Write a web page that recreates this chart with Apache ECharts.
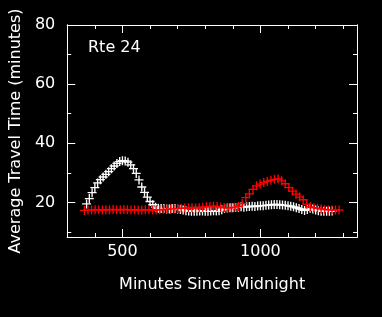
<!DOCTYPE html>
<html>
<head>
<meta charset="utf-8">
<script src="https://cdn.jsdelivr.net/npm/echarts@6/dist/echarts.min.js"></script>
<style>html,body{margin:0;padding:0;background:#000;}#c{width:382px;height:317px;}</style>
</head>
<body>
<div id="c"></div>
<script>
// ---- data ----
const whiteX = [370,380,390,400,410,420,430,440,450,460,470,480,490,500,510,520,530,540,550,560,570,580,590,600,610,620,630,640,650,660,670,680,690,700,710,720,730,740,750,760,770,780,790,800,810,820,830,840,850,860,870,880,890,900,910,920,930,940,950,960,970,980,990,1000,1010,1020,1030,1040,1050,1060,1070,1080,1090,1100,1110,1120,1130,1140,1150,1160,1170,1180,1190,1200,1210,1220,1230,1240,1250,1260];
const whiteY = [19.5,21.3,23.3,25.0,26.6,27.7,28.6,29.5,30.4,31.4,32.3,33.2,33.8,34.1,34.0,33.6,32.7,31.4,29.8,27.6,25.2,23.4,21.8,20.3,19.2,18.4,18.0,17.9,17.9,17.8,17.8,17.9,17.9,17.8,17.6,17.4,17.2,17.1,17.0,17.0,17.0,17.1,17.1,17.0,17.0,17.1,17.2,17.1,17.2,17.5,17.9,18.1,18.2,18.2,18.3,18.4,18.5,18.4,18.5,18.6,18.7,18.6,18.8,18.9,18.9,19.0,19.1,19.2,19.3,19.3,19.2,19.1,19.0,18.9,18.7,18.5,18.2,17.9,17.6,17.3,17.6,18.0,17.8,17.4,17.2,17.0,17.0,17.0,17.0,17.1];
const redX = [362,375,388,401,414,427,440,453,466,479,492,505,518,531,544,557,570,583,596,609,622,635,648,661,674,687,700,713,726,739,752,765,778,791,804,817,830,843,856,869,882,895,908,921,934,947,960,973,986,999,1012,1025,1038,1051,1064,1077,1090,1103,1116,1129,1142,1155,1168,1181,1194,1207,1220,1233,1246,1259,1272,1285];
const redY = [17.3,17.4,17.4,17.5,17.5,17.4,17.5,17.5,17.6,17.5,17.5,17.6,17.5,17.4,17.5,17.4,17.4,17.5,17.5,17.4,17.4,17.5,17.6,17.7,17.8,17.8,17.9,18.0,18.1,18.2,18.2,18.1,18.2,18.4,18.5,18.6,18.7,18.6,18.4,18.2,18.1,18.2,18.4,18.6,19.6,21.6,22.9,24.4,25.6,26.2,26.7,27.1,27.5,27.8,27.9,27.3,26.3,25.0,23.8,22.8,21.8,20.9,19.4,18.5,18.2,18.0,17.8,17.6,17.5,17.4,17.4,17.4];
const xMajorTicks = [500,1000];
const xMinorTicks = [400,600,700,800,900,1100,1200,1300];
const yMajorTicks = [20,40,60,80];
const yMinorTicks = [10,30,50,70];
const routeLabel = 'Rte 24';
const xTitle = 'Minutes Since Midnight';
const yTitle = 'Average Travel Time (minutes)';

const FONT = 'DejaVu Sans';
const W = '#ffffff';
const plus = 'path://M3.4,0H4.6V8H3.4Z M0,3.4H8V4.6H0Z';

function xAx(pos, ticks, len, opts) {
  return Object.assign({
    type: 'value', position: pos, min: 300, max: 1350,
    axisLine: {show: true, onZero: false, lineStyle: {color: W, width: 1}},
    axisTick: {show: true, inside: true, length: len, customValues: ticks, lineStyle: {color: W, width: 1}},
    axisLabel: {show: false},
    splitLine: {show: false}
  }, opts || {});
}
function yAx(pos, ticks, len, opts) {
  return Object.assign({
    type: 'value', position: pos, min: 8.3, max: 80,
    axisLine: {show: true, onZero: false, lineStyle: {color: W, width: 1}},
    axisTick: {show: true, inside: true, length: len, customValues: ticks, lineStyle: {color: W, width: 1}},
    axisLabel: {show: false},
    splitLine: {show: false}
  }, opts || {});
}

const chart = echarts.init(document.getElementById('c'), null, {renderer: 'canvas'});
chart.setOption({
  backgroundColor: '#000',
  animation: false,
  title: {text: routeLabel, left: 88, top: 40, padding: 0,
    textStyle: {color: W, fontSize: 16, fontWeight: 'normal', fontFamily: FONT}},
  grid: {left: 59, right: 25, top: 25, bottom: 80, containLabel: false},
  xAxis: [
    xAx('bottom', xMajorTicks, 8, {
      axisLabel: {show: true, customValues: xMajorTicks, color: W, fontSize: 16, fontFamily: FONT, margin: 7,
        formatter: v => String(v)},
      name: xTitle, nameLocation: 'middle', nameGap: 40,
      nameTextStyle: {color: W, fontSize: 16, fontFamily: FONT}
    }),
    xAx('bottom', xMinorTicks, 4),
    xAx('top', xMajorTicks, 8),
    xAx('top', xMinorTicks, 4)
  ],
  yAxis: [
    yAx('left', yMajorTicks, 8, {
      axisLabel: {show: true, customValues: yMajorTicks, color: W, fontSize: 16, fontFamily: FONT, margin: 12,
        formatter: v => String(v)},
      name: yTitle, nameLocation: 'middle', nameGap: 35,
      nameTextStyle: {color: W, fontSize: 16, fontFamily: FONT}
    }),
    yAx('left', yMinorTicks, 4),
    yAx('right', yMajorTicks, 8),
    yAx('right', yMinorTicks, 4)
  ],
  series: [
    {type: 'scatter', xAxisIndex: 0, yAxisIndex: 0, symbol: plus, symbolSize: 9,
     itemStyle: {color: W, opacity: 1}, data: whiteX.map((x, i) => [x, whiteY[i]])},
    {type: 'scatter', xAxisIndex: 0, yAxisIndex: 0, symbol: plus, symbolSize: 9,
     itemStyle: {color: '#ff0000', opacity: 1}, data: redX.map((x, i) => [x, redY[i]])}
  ]
});
</script>
</body>
</html>
